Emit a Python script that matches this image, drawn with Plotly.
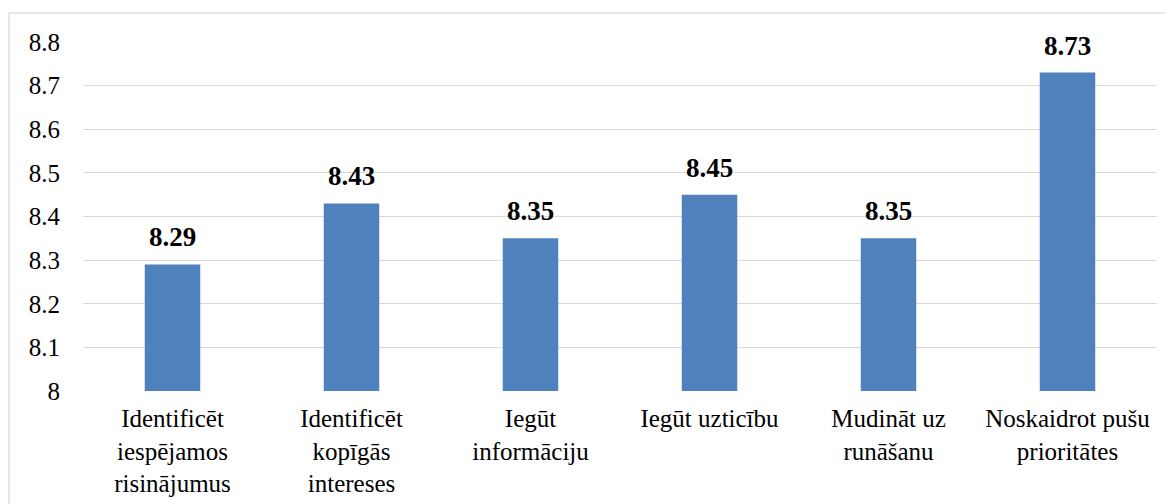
import plotly.graph_objects as go

categories = ["Identificēt iespējamos risinājumus", "Identificēt kopīgās intereses",
              "Iegūt informāciju", "Iegūt uzticību", "Mudināt uz runāšanu",
              "Noskaidrot pušu prioritātes"]
tick_labels = ["Identificēt<br>iespējamos<br>risinājumus", "Identificēt<br>kopīgās<br>intereses",
               "Iegūt<br>informāciju", "Iegūt uzticību", "Mudināt uz<br>runāšanu",
               "Noskaidrot pušu<br>prioritātes"]
values = [8.29, 8.43, 8.35, 8.45, 8.35, 8.73]
y_ticks = [8, 8.1, 8.2, 8.3, 8.4, 8.5, 8.6, 8.7, 8.8]
y_tick_text = ["8", "8.1", "8.2", "8.3", "8.4", "8.5", "8.6", "8.7", "8.8"]

FONT = "Times New Roman, Tinos, Liberation Serif, DejaVu Serif, Noto Serif, serif"

fig = go.Figure(go.Bar(
    x=categories, y=values,
    marker=dict(color="#4F81BD", line=dict(width=0)),
    width=0.31,
))

for c, v in zip(categories, values):
    fig.add_annotation(x=c, y=v, xref="x", yref="y", text=f"<b>{v:.2f}</b>",
                       showarrow=False, yanchor="bottom", yshift=10,
                       font=dict(family=FONT, size=27, color="#000000"))

fig.update_layout(
    width=1165, height=496,
    margin=dict(l=75, r=16, t=34, b=113),
    plot_bgcolor="white", paper_bgcolor="white",
    font=dict(family=FONT, size=25, color="#000000"),
    showlegend=False,
    xaxis=dict(tickmode="array", tickvals=categories, ticktext=tick_labels,
               showgrid=False, showline=False, ticks="", tickangle=0,
               ticklabelstandoff=10, automargin=False,
               tickfont=dict(family=FONT, size=25)),
    yaxis=dict(range=[8, 8.8], tickmode="array", tickvals=y_ticks, ticktext=y_tick_text,
               showgrid=True, gridcolor="#D9D9D9", gridwidth=1.3,
               zeroline=False, showline=False, ticks="",
               ticklabelstandoff=22, automargin=False,
               tickfont=dict(family=FONT, size=25)),
    shapes=[dict(type="rect", xref="paper", yref="paper",
                 x0=-0.0689, x1=1.0135, y0=-0.4, y1=1.083,
                 line=dict(color="#D9D9D9", width=1.3), layer="below")],
)

fig.write_html("out.html")
